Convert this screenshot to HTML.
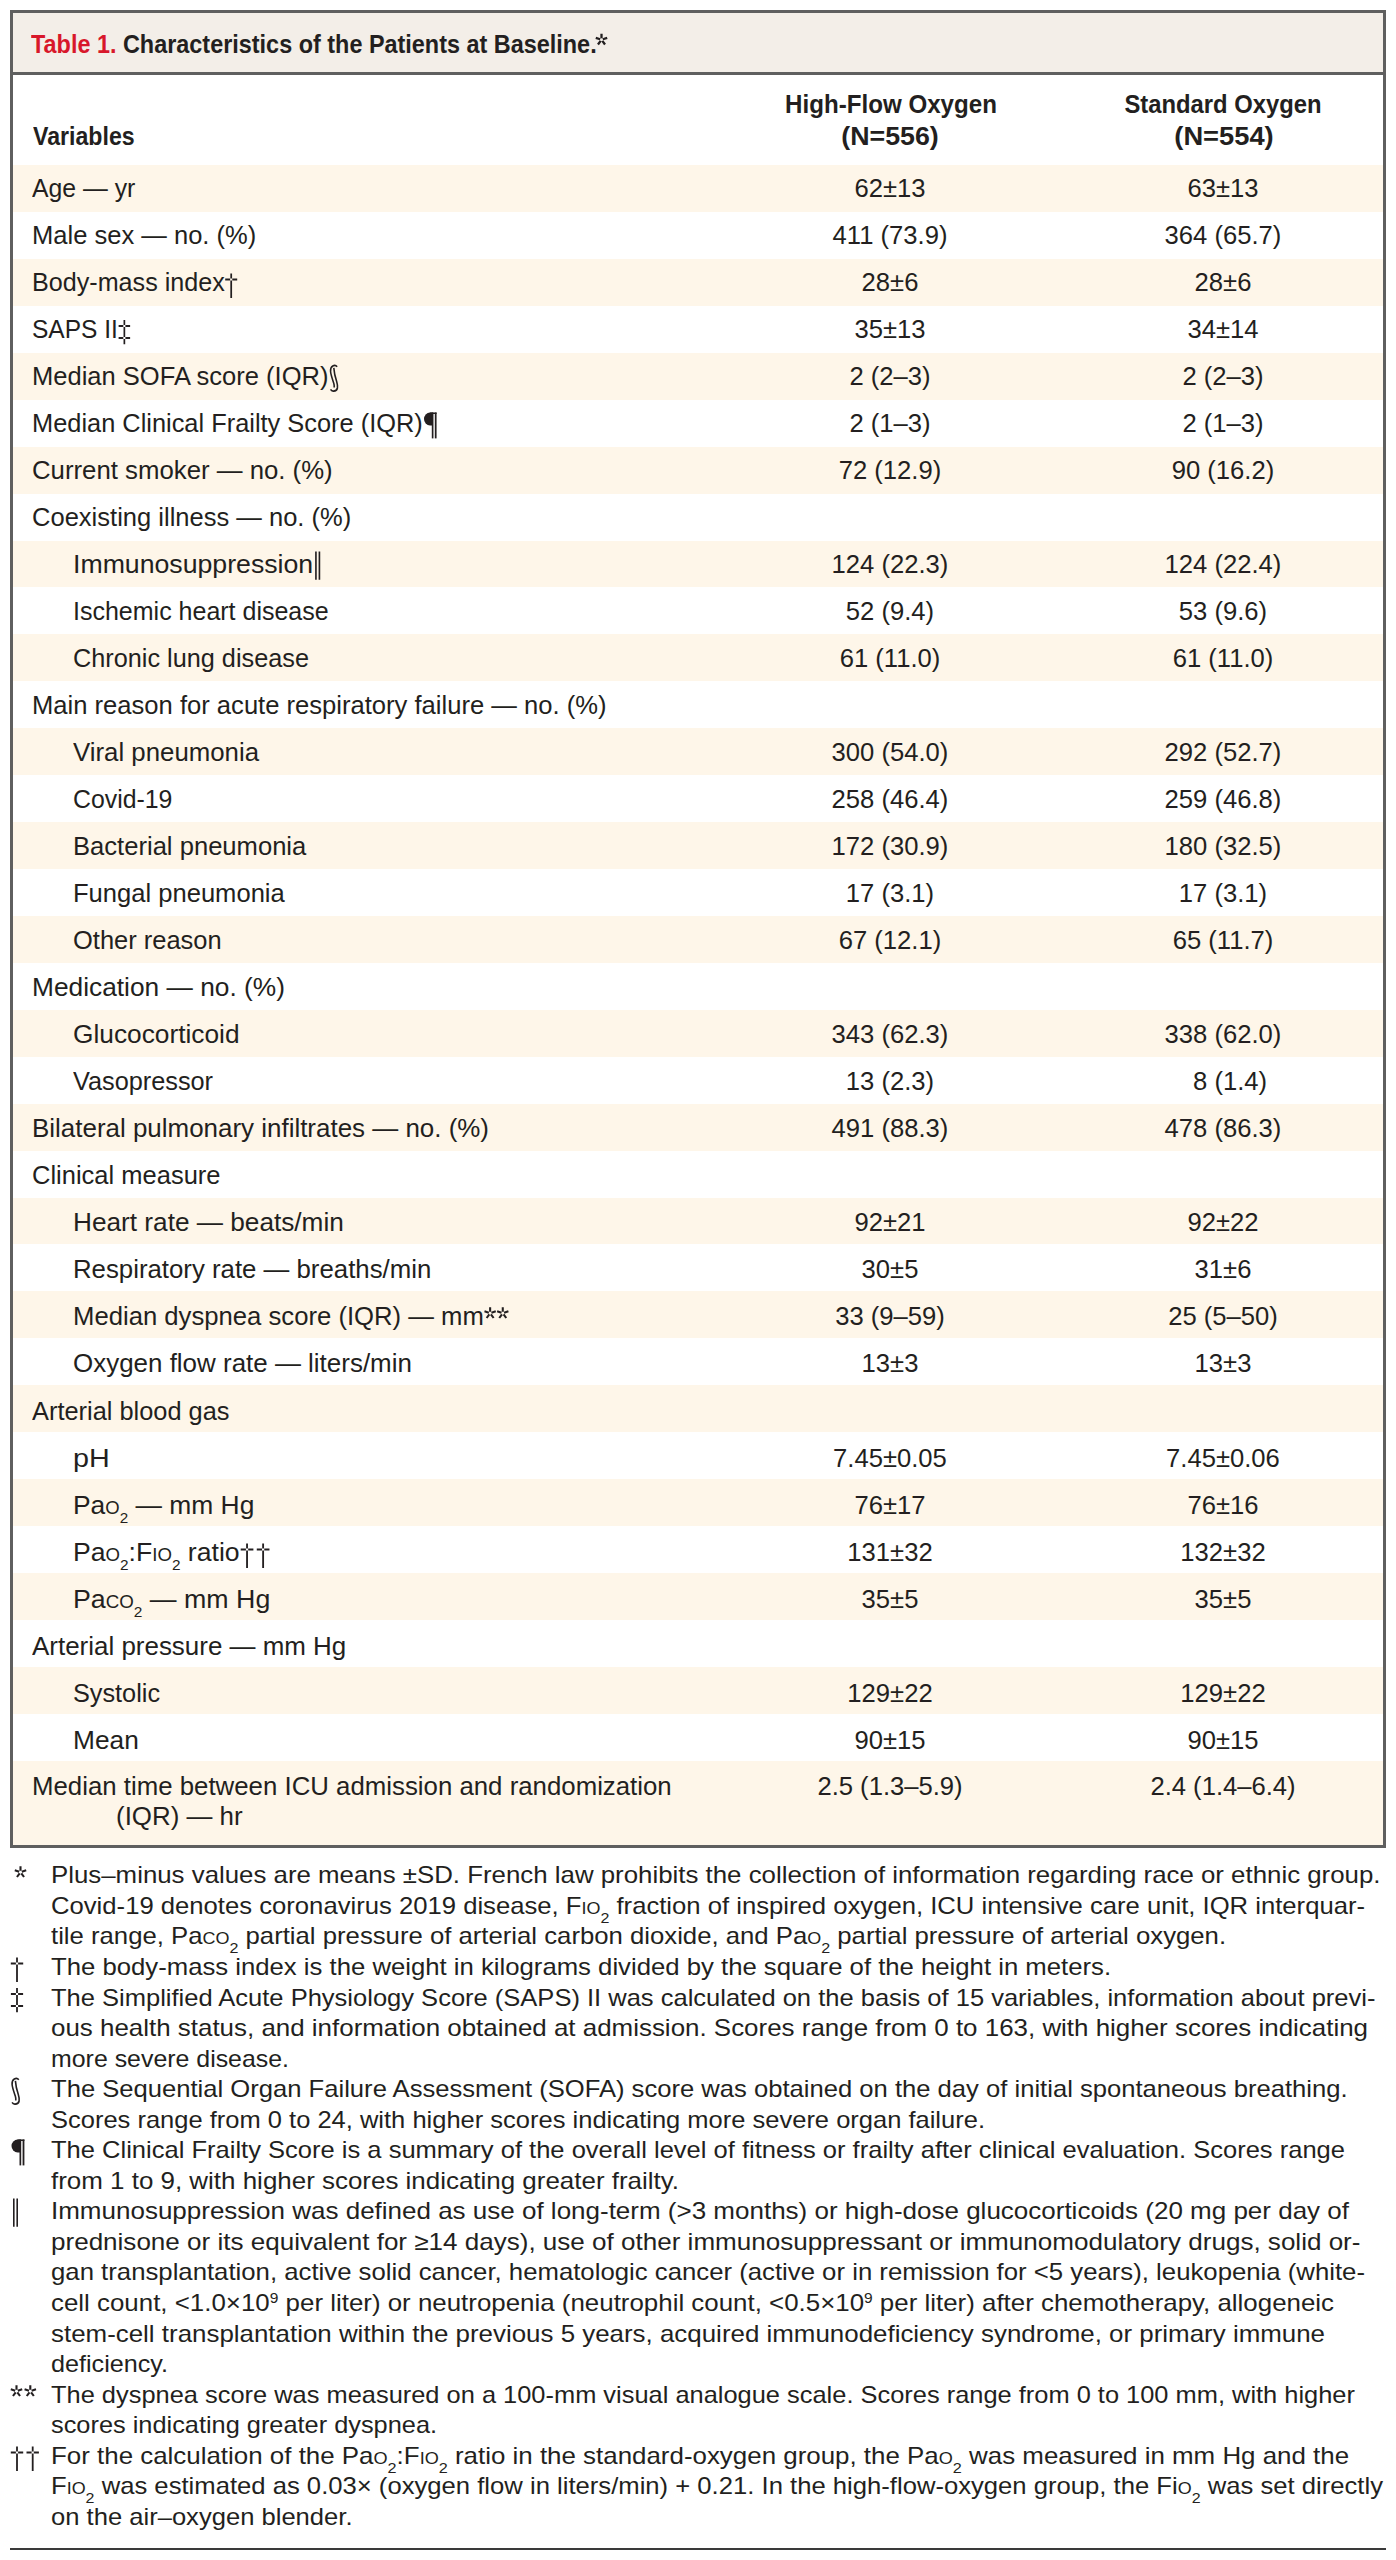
<!DOCTYPE html>
<html><head><meta charset="utf-8"><style>
html,body{margin:0;padding:0;background:#fff;}
body{width:1396px;height:2560px;position:relative;overflow:hidden;font-family:"Liberation Sans",sans-serif;color:#231f20;}
.a{position:absolute;white-space:nowrap;line-height:1;}
.l{transform-origin:0 50%;}
.c{transform-origin:50% 50%;}
sc{font-size:0.7em;text-transform:uppercase;}
sub{font-size:15px;vertical-align:-9.3px;line-height:0;}
sup{font-size:0.6em;vertical-align:0.55em;line-height:0;}
.stripe{position:absolute;left:13px;width:1370px;background:#fef6e9;}
</style></head><body>

<div style="position:absolute;left:10px;top:10px;width:1376px;height:1838px;box-sizing:border-box;border:3px solid #5f5f5f;"></div>
<div style="position:absolute;left:13px;top:13px;width:1370px;height:59px;background:#f3eee8;"></div>
<div style="position:absolute;left:10px;top:72px;width:1376px;height:3px;background:#5f5f5f;"></div>
<div class="stripe" style="top:165.10px;height:46.93px"></div>
<div class="stripe" style="top:258.96px;height:46.93px"></div>
<div class="stripe" style="top:352.82px;height:46.93px"></div>
<div class="stripe" style="top:446.68px;height:46.93px"></div>
<div class="stripe" style="top:540.54px;height:46.93px"></div>
<div class="stripe" style="top:634.40px;height:46.93px"></div>
<div class="stripe" style="top:728.26px;height:46.93px"></div>
<div class="stripe" style="top:822.12px;height:46.93px"></div>
<div class="stripe" style="top:915.98px;height:46.93px"></div>
<div class="stripe" style="top:1009.84px;height:46.93px"></div>
<div class="stripe" style="top:1103.70px;height:46.93px"></div>
<div class="stripe" style="top:1197.56px;height:46.93px"></div>
<div class="stripe" style="top:1291.42px;height:46.93px"></div>
<div class="stripe" style="top:1385.28px;height:46.93px"></div>
<div class="stripe" style="top:1479.14px;height:46.93px"></div>
<div class="stripe" style="top:1573.00px;height:46.93px"></div>
<div class="stripe" style="top:1666.86px;height:46.93px"></div>
<div class="stripe" style="top:1760.72px;height:84.28px"></div>
<div class="a l" style="left:31.00px;top:30.79px;font-size:26px;transform:scaleX(0.9006);font-weight:bold;"><span style="color:#d8172b">Table 1.</span> Characteristics of the Patients at Baseline.</div>
<div class="a" style="left:595.10px;top:33.50px;line-height:0"><svg width="13" height="21" viewBox="0 -19 13 21" style="display:block;x:-2px;overflow:visible" fill="none" stroke="#231f20" stroke-width="1.8"><path d="M6.50 -14.70L6.50 -19.30M5.17 -13.73L0.79 -15.15M7.83 -13.73L12.21 -15.15M5.68 -12.17L2.97 -8.45M7.32 -12.17L10.03 -8.45" stroke-width="2.3"/></svg></div>
<div class="a l" style="left:33.00px;top:122.99px;font-size:26px;transform:scaleX(0.8900);font-weight:bold;">Variables</div>
<div class="a c" style="left:741.20px;top:91.49px;width:300px;text-align:center;font-size:26px;transform:scaleX(0.9280);font-weight:bold;">High-Flow Oxygen</div>
<div class="a c" style="left:740.30px;top:123.29px;width:300px;text-align:center;font-size:26px;transform:scaleX(1.0300);font-weight:bold;">(N=556)</div>
<div class="a c" style="left:1073.00px;top:91.49px;width:300px;text-align:center;font-size:26px;transform:scaleX(0.9160);font-weight:bold;">Standard Oxygen</div>
<div class="a c" style="left:1073.50px;top:123.29px;width:300px;text-align:center;font-size:26px;transform:scaleX(1.0500);font-weight:bold;">(N=554)</div>
<div class="a l" style="left:32.00px;top:174.99px;font-size:26px;transform:scaleX(0.9531);">Age — yr</div>
<div class="a c" style="left:740.00px;top:174.99px;width:300px;text-align:center;font-size:26px;transform:scaleX(0.9850);">62±13</div>
<div class="a c" style="left:1073.00px;top:174.99px;width:300px;text-align:center;font-size:26px;transform:scaleX(0.9850);">63±13</div>
<div class="a l" style="left:32.00px;top:222.01px;font-size:26px;transform:scaleX(0.9823);">Male sex — no. (%)</div>
<div class="a c" style="left:740.00px;top:222.01px;width:300px;text-align:center;font-size:26px;transform:scaleX(0.9850);">411 (73.9)</div>
<div class="a c" style="left:1073.00px;top:222.01px;width:300px;text-align:center;font-size:26px;transform:scaleX(0.9850);">364 (65.7)</div>
<div class="a l" style="left:32.00px;top:269.03px;font-size:26px;transform:scaleX(0.9670);">Body-mass index<svg width="14" height="27" viewBox="0 -19 14 27" style="vertical-align:-8px;overflow:visible" fill="none" stroke="#231f20" stroke-width="1.8"><path d="M7 -17.6V-12.6M7 -10.4V7M0.8 -11.5H5.9M8.1 -11.5H13.2"/></svg></div>
<div class="a c" style="left:740.00px;top:269.03px;width:300px;text-align:center;font-size:26px;transform:scaleX(0.9850);">28±6</div>
<div class="a c" style="left:1073.00px;top:269.03px;width:300px;text-align:center;font-size:26px;transform:scaleX(0.9850);">28±6</div>
<div class="a l" style="left:32.00px;top:316.05px;font-size:26px;transform:scaleX(0.9425);">SAPS II<svg width="14" height="26" viewBox="0 -19 14 26" style="vertical-align:-7px;overflow:visible" fill="none" stroke="#231f20" stroke-width="1.8"><path d="M7 -18V-13.1M7 -10.9V-1.1M7 1.1V6.2M0.9 -12H5.9M8.1 -12H13.1M0.9 0H5.9M8.1 0H13.1"/></svg></div>
<div class="a c" style="left:740.00px;top:316.05px;width:300px;text-align:center;font-size:26px;transform:scaleX(0.9850);">35±13</div>
<div class="a c" style="left:1073.00px;top:316.05px;width:300px;text-align:center;font-size:26px;transform:scaleX(0.9850);">34±14</div>
<div class="a l" style="left:32.00px;top:363.07px;font-size:26px;transform:scaleX(0.9818);">Median SOFA score (IQR)<svg width="11" height="28" viewBox="0 -21 11 28" style="vertical-align:-7px;overflow:visible" fill="none" stroke="#231f20" stroke-width="1.8"><path d="M8.8,-18.3 C7.7,-19.6 5.8,-19.8 4.3,-19 C2.5,-18 1.9,-15.8 2.1,-13.5 C2.4,-10 4.3,-5 5.3,-2 C5.8,-0.5 5.9,1 5.8,2.5" stroke-width="1.6"/><path d="M5.4,-17.1 C5.7,-13 7.1,-7 8.3,-3.5 C9.1,-1 9.4,1 9.1,3 C8.7,5 6.7,6.2 4.8,6.1 C3.6,6 2.6,5.3 2.1,4.4" stroke-width="1.6"/></svg></div>
<div class="a c" style="left:740.00px;top:363.07px;width:300px;text-align:center;font-size:26px;transform:scaleX(0.9850);">2 (2–3)</div>
<div class="a c" style="left:1073.00px;top:363.07px;width:300px;text-align:center;font-size:26px;transform:scaleX(0.9850);">2 (2–3)</div>
<div class="a l" style="left:32.00px;top:410.09px;font-size:26px;transform:scaleX(0.9763);">Median Clinical Frailty Score (IQR)<svg width="16" height="27" viewBox="0 -20 16 27" style="vertical-align:-7px;overflow:visible" fill="none" stroke="#231f20" stroke-width="1.8"><g fill="#231f20" stroke="none"><path d="M10.5 -19.5H7.7A6.2 6.5 0 0 0 7.7 -6.5H10.5Z"/><rect x="7.5" y="-19.5" width="6.9" height="1.5"/><rect x="9.5" y="-19.5" width="1.7" height="25.9"/><rect x="12.6" y="-19.5" width="1.8" height="25.9"/></g></svg></div>
<div class="a c" style="left:740.00px;top:410.09px;width:300px;text-align:center;font-size:26px;transform:scaleX(0.9850);">2 (1–3)</div>
<div class="a c" style="left:1073.00px;top:410.09px;width:300px;text-align:center;font-size:26px;transform:scaleX(0.9850);">2 (1–3)</div>
<div class="a l" style="left:32.00px;top:457.11px;font-size:26px;transform:scaleX(0.9910);">Current smoker — no. (%)</div>
<div class="a c" style="left:740.00px;top:457.11px;width:300px;text-align:center;font-size:26px;transform:scaleX(0.9850);">72 (12.9)</div>
<div class="a c" style="left:1073.00px;top:457.11px;width:300px;text-align:center;font-size:26px;transform:scaleX(0.9850);">90 (16.2)</div>
<div class="a l" style="left:32.00px;top:504.13px;font-size:26px;transform:scaleX(0.9819);">Coexisting illness — no. (%)</div>
<div class="a l" style="left:73.00px;top:551.15px;font-size:26px;transform:scaleX(1.0259);">Immunosuppression<svg width="8" height="29" viewBox="0 -22 8 29" style="vertical-align:-7px;overflow:visible" fill="none" stroke="#231f20" stroke-width="1.8"><path d="M2.8 -21.5V6.8M6.2 -21.5V6.8" stroke-width="1.6"/></svg></div>
<div class="a c" style="left:740.00px;top:551.15px;width:300px;text-align:center;font-size:26px;transform:scaleX(0.9850);">124 (22.3)</div>
<div class="a c" style="left:1073.00px;top:551.15px;width:300px;text-align:center;font-size:26px;transform:scaleX(0.9850);">124 (22.4)</div>
<div class="a l" style="left:73.00px;top:598.17px;font-size:26px;transform:scaleX(0.9615);">Ischemic heart disease</div>
<div class="a c" style="left:740.00px;top:598.17px;width:300px;text-align:center;font-size:26px;transform:scaleX(0.9850);">52 (9.4)</div>
<div class="a c" style="left:1073.00px;top:598.17px;width:300px;text-align:center;font-size:26px;transform:scaleX(0.9850);">53 (9.6)</div>
<div class="a l" style="left:73.00px;top:645.19px;font-size:26px;transform:scaleX(0.9717);">Chronic lung disease</div>
<div class="a c" style="left:740.00px;top:645.19px;width:300px;text-align:center;font-size:26px;transform:scaleX(0.9850);">61 (11.0)</div>
<div class="a c" style="left:1073.00px;top:645.19px;width:300px;text-align:center;font-size:26px;transform:scaleX(0.9850);">61 (11.0)</div>
<div class="a l" style="left:32.00px;top:692.21px;font-size:26px;transform:scaleX(0.9840);">Main reason for acute respiratory failure — no. (%)</div>
<div class="a l" style="left:73.00px;top:739.23px;font-size:26px;transform:scaleX(0.9926);">Viral pneumonia</div>
<div class="a c" style="left:740.00px;top:739.23px;width:300px;text-align:center;font-size:26px;transform:scaleX(0.9850);">300 (54.0)</div>
<div class="a c" style="left:1073.00px;top:739.23px;width:300px;text-align:center;font-size:26px;transform:scaleX(0.9850);">292 (52.7)</div>
<div class="a l" style="left:73.00px;top:786.25px;font-size:26px;transform:scaleX(0.9555);">Covid-19</div>
<div class="a c" style="left:740.00px;top:786.25px;width:300px;text-align:center;font-size:26px;transform:scaleX(0.9850);">258 (46.4)</div>
<div class="a c" style="left:1073.00px;top:786.25px;width:300px;text-align:center;font-size:26px;transform:scaleX(0.9850);">259 (46.8)</div>
<div class="a l" style="left:73.00px;top:833.27px;font-size:26px;transform:scaleX(0.9842);">Bacterial pneumonia</div>
<div class="a c" style="left:740.00px;top:833.27px;width:300px;text-align:center;font-size:26px;transform:scaleX(0.9850);">172 (30.9)</div>
<div class="a c" style="left:1073.00px;top:833.27px;width:300px;text-align:center;font-size:26px;transform:scaleX(0.9850);">180 (32.5)</div>
<div class="a l" style="left:73.00px;top:880.29px;font-size:26px;transform:scaleX(0.9831);">Fungal pneumonia</div>
<div class="a c" style="left:740.00px;top:880.29px;width:300px;text-align:center;font-size:26px;transform:scaleX(0.9850);">17 (3.1)</div>
<div class="a c" style="left:1073.00px;top:880.29px;width:300px;text-align:center;font-size:26px;transform:scaleX(0.9850);">17 (3.1)</div>
<div class="a l" style="left:73.00px;top:927.31px;font-size:26px;transform:scaleX(0.9796);">Other reason</div>
<div class="a c" style="left:740.00px;top:927.31px;width:300px;text-align:center;font-size:26px;transform:scaleX(0.9850);">67 (12.1)</div>
<div class="a c" style="left:1073.00px;top:927.31px;width:300px;text-align:center;font-size:26px;transform:scaleX(0.9850);">65 (11.7)</div>
<div class="a l" style="left:32.00px;top:974.33px;font-size:26px;transform:scaleX(1.0117);">Medication — no. (%)</div>
<div class="a l" style="left:73.00px;top:1021.35px;font-size:26px;transform:scaleX(1.0109);">Glucocorticoid</div>
<div class="a c" style="left:740.00px;top:1021.35px;width:300px;text-align:center;font-size:26px;transform:scaleX(0.9850);">343 (62.3)</div>
<div class="a c" style="left:1073.00px;top:1021.35px;width:300px;text-align:center;font-size:26px;transform:scaleX(0.9850);">338 (62.0)</div>
<div class="a l" style="left:73.00px;top:1068.37px;font-size:26px;transform:scaleX(0.9723);">Vasopressor</div>
<div class="a c" style="left:740.00px;top:1068.37px;width:300px;text-align:center;font-size:26px;transform:scaleX(0.9850);">13 (2.3)</div>
<div class="a c" style="left:1073.00px;top:1068.37px;width:300px;text-align:center;font-size:26px;transform:scaleX(0.9850);"><span style="visibility:hidden">0</span>8 (1.4)</div>
<div class="a l" style="left:32.00px;top:1115.39px;font-size:26px;transform:scaleX(0.9977);">Bilateral pulmonary infiltrates — no. (%)</div>
<div class="a c" style="left:740.00px;top:1115.39px;width:300px;text-align:center;font-size:26px;transform:scaleX(0.9850);">491 (88.3)</div>
<div class="a c" style="left:1073.00px;top:1115.39px;width:300px;text-align:center;font-size:26px;transform:scaleX(0.9850);">478 (86.3)</div>
<div class="a l" style="left:32.00px;top:1162.41px;font-size:26px;transform:scaleX(0.9808);">Clinical measure</div>
<div class="a l" style="left:73.00px;top:1209.43px;font-size:26px;transform:scaleX(1.0076);">Heart rate — beats/min</div>
<div class="a c" style="left:740.00px;top:1209.43px;width:300px;text-align:center;font-size:26px;transform:scaleX(0.9850);">92±21</div>
<div class="a c" style="left:1073.00px;top:1209.43px;width:300px;text-align:center;font-size:26px;transform:scaleX(0.9850);">92±22</div>
<div class="a l" style="left:73.00px;top:1256.45px;font-size:26px;transform:scaleX(0.9917);">Respiratory rate — breaths/min</div>
<div class="a c" style="left:740.00px;top:1256.45px;width:300px;text-align:center;font-size:26px;transform:scaleX(0.9850);">30±5</div>
<div class="a c" style="left:1073.00px;top:1256.45px;width:300px;text-align:center;font-size:26px;transform:scaleX(0.9850);">31±6</div>
<div class="a l" style="left:73.00px;top:1303.47px;font-size:26px;transform:scaleX(0.9873);">Median dyspnea score (IQR) — mm<svg width="26" height="21" viewBox="0 -19 26 21" style="vertical-align:-2px;overflow:visible" fill="none" stroke="#231f20" stroke-width="1.8"><path d="M6.50 -13.25L6.50 -17.85M5.17 -12.28L0.79 -13.70M7.83 -12.28L12.21 -13.70M5.68 -10.72L2.97 -7.00M7.32 -10.72L10.03 -7.00" stroke-width="2.1"/><path d="M19.30 -13.25L19.30 -17.85M17.97 -12.28L13.59 -13.70M20.63 -12.28L25.01 -13.70M18.48 -10.72L15.77 -7.00M20.12 -10.72L22.83 -7.00" stroke-width="2.1"/></svg></div>
<div class="a c" style="left:740.00px;top:1303.47px;width:300px;text-align:center;font-size:26px;transform:scaleX(0.9850);">33 (9–59)</div>
<div class="a c" style="left:1073.00px;top:1303.47px;width:300px;text-align:center;font-size:26px;transform:scaleX(0.9850);">25 (5–50)</div>
<div class="a l" style="left:73.00px;top:1350.49px;font-size:26px;transform:scaleX(0.9981);">Oxygen flow rate — liters/min</div>
<div class="a c" style="left:740.00px;top:1350.49px;width:300px;text-align:center;font-size:26px;transform:scaleX(0.9850);">13±3</div>
<div class="a c" style="left:1073.00px;top:1350.49px;width:300px;text-align:center;font-size:26px;transform:scaleX(0.9850);">13±3</div>
<div class="a l" style="left:32.00px;top:1397.51px;font-size:26px;transform:scaleX(0.9760);">Arterial blood gas</div>
<div class="a l" style="left:73.00px;top:1444.53px;font-size:26px;transform:scaleX(1.1033);">pH</div>
<div class="a c" style="left:740.00px;top:1444.53px;width:300px;text-align:center;font-size:26px;transform:scaleX(0.9850);">7.45±0.05</div>
<div class="a c" style="left:1073.00px;top:1444.53px;width:300px;text-align:center;font-size:26px;transform:scaleX(0.9850);">7.45±0.06</div>
<div class="a l" style="left:73.00px;top:1491.55px;font-size:26px;transform:scaleX(1.0158);">Pa<sc>o</sc><sub>2</sub> — mm Hg</div>
<div class="a c" style="left:740.00px;top:1491.55px;width:300px;text-align:center;font-size:26px;transform:scaleX(0.9850);">76±17</div>
<div class="a c" style="left:1073.00px;top:1491.55px;width:300px;text-align:center;font-size:26px;transform:scaleX(0.9850);">76±16</div>
<div class="a l" style="left:73.00px;top:1538.57px;font-size:26px;transform:scaleX(1.0238);">Pa<sc>o</sc><sub>2</sub>:F<sc>io</sc><sub>2</sub> ratio<svg width="29" height="27" viewBox="0 -19 29 27" style="vertical-align:-8px;overflow:visible" fill="none" stroke="#231f20" stroke-width="1.8"><path d="M7 -17.6V-12.6M7 -10.4V7M0.8 -11.5H5.9M8.1 -11.5H13.2"/><path d="M22.7 -17.6V-12.6M22.7 -10.4V7M16.5 -11.5H21.6M23.8 -11.5H28.9"/></svg></div>
<div class="a c" style="left:740.00px;top:1538.57px;width:300px;text-align:center;font-size:26px;transform:scaleX(0.9850);">131±32</div>
<div class="a c" style="left:1073.00px;top:1538.57px;width:300px;text-align:center;font-size:26px;transform:scaleX(0.9850);">132±32</div>
<div class="a l" style="left:73.00px;top:1585.59px;font-size:26px;transform:scaleX(1.0295);">Pa<sc>co</sc><sub>2</sub> — mm Hg</div>
<div class="a c" style="left:740.00px;top:1585.59px;width:300px;text-align:center;font-size:26px;transform:scaleX(0.9850);">35±5</div>
<div class="a c" style="left:1073.00px;top:1585.59px;width:300px;text-align:center;font-size:26px;transform:scaleX(0.9850);">35±5</div>
<div class="a l" style="left:32.00px;top:1632.61px;font-size:26px;transform:scaleX(0.9978);">Arterial pressure — mm Hg</div>
<div class="a l" style="left:73.00px;top:1679.63px;font-size:26px;transform:scaleX(0.9715);">Systolic</div>
<div class="a c" style="left:740.00px;top:1679.63px;width:300px;text-align:center;font-size:26px;transform:scaleX(0.9850);">129±22</div>
<div class="a c" style="left:1073.00px;top:1679.63px;width:300px;text-align:center;font-size:26px;transform:scaleX(0.9850);">129±22</div>
<div class="a l" style="left:73.00px;top:1726.65px;font-size:26px;transform:scaleX(1.0110);">Mean</div>
<div class="a c" style="left:740.00px;top:1726.65px;width:300px;text-align:center;font-size:26px;transform:scaleX(0.9850);">90±15</div>
<div class="a c" style="left:1073.00px;top:1726.65px;width:300px;text-align:center;font-size:26px;transform:scaleX(0.9850);">90±15</div>
<div class="a l" style="left:32.00px;top:1773.29px;font-size:26px;transform:scaleX(0.9925);">Median time between ICU admission and randomization</div>
<div class="a l" style="left:116.00px;top:1802.79px;font-size:26px;transform:scaleX(0.9962);">(IQR) — hr</div>
<div class="a c" style="left:740.00px;top:1773.29px;width:300px;text-align:center;font-size:26px;transform:scaleX(0.9850);">2.5 (1.3–5.9)</div>
<div class="a c" style="left:1073.00px;top:1773.29px;width:300px;text-align:center;font-size:26px;transform:scaleX(0.9850);">2.4 (1.4–6.4)</div>
<div class="a" style="left:14.10px;top:1864.65px;line-height:0"><svg width="13" height="21" viewBox="0 -19 13 21" style="display:block;x:-2px;overflow:visible" fill="none" stroke="#231f20" stroke-width="1.8"><path d="M6.50 -13.25L6.50 -17.85M5.17 -12.28L0.79 -13.70M7.83 -12.28L12.21 -13.70M5.68 -10.72L2.97 -7.00M7.32 -10.72L10.03 -7.00" stroke-width="2.1"/></svg></div>
<div class="a l" style="left:51.00px;top:1863.33px;font-size:24px;transform:scaleX(1.0764);">Plus–minus values are means ±SD. French law prohibits the collection of information regarding race or ethnic group.</div>
<div class="a l" style="left:51.00px;top:1893.88px;font-size:24px;transform:scaleX(1.0689);">Covid-19 denotes coronavirus 2019 disease, F<sc>io</sc><sub>2</sub> fraction of inspired oxygen, ICU intensive care unit, IQR interquar-</div>
<div class="a l" style="left:51.00px;top:1924.43px;font-size:24px;transform:scaleX(1.0713);">tile range, Pa<sc>co</sc><sub>2</sub> partial pressure of arterial carbon dioxide, and Pa<sc>o</sc><sub>2</sub> partial pressure of arterial oxygen.</div>
<div class="a" style="left:10.40px;top:1956.30px;line-height:0"><svg width="14" height="27" viewBox="0 -19 14 27" style="display:block;x:-8px;overflow:visible" fill="none" stroke="#231f20" stroke-width="1.8"><path d="M7 -17.6V-12.6M7 -10.4V7M0.8 -11.5H5.9M8.1 -11.5H13.2"/></svg></div>
<div class="a l" style="left:51.00px;top:1954.98px;font-size:24px;transform:scaleX(1.0709);">The body-mass index is the weight in kilograms divided by the square of the height in meters.</div>
<div class="a" style="left:10.40px;top:1986.85px;line-height:0"><svg width="14" height="26" viewBox="0 -19 14 26" style="display:block;x:-7px;overflow:visible" fill="none" stroke="#231f20" stroke-width="1.8"><path d="M7 -18V-13.1M7 -10.9V-1.1M7 1.1V6.2M0.9 -12H5.9M8.1 -12H13.1M0.9 0H5.9M8.1 0H13.1"/></svg></div>
<div class="a l" style="left:51.00px;top:1985.53px;font-size:24px;transform:scaleX(1.0630);">The Simplified Acute Physiology Score (SAPS) II was calculated on the basis of 15 variables, information about previ-</div>
<div class="a l" style="left:51.00px;top:2016.08px;font-size:24px;transform:scaleX(1.0801);">ous health status, and information obtained at admission. Scores range from 0 to 163, with higher scores indicating</div>
<div class="a l" style="left:51.00px;top:2046.63px;font-size:24px;transform:scaleX(1.0374);">more severe disease.</div>
<div class="a" style="left:9.50px;top:2076.50px;line-height:0"><svg width="11" height="28" viewBox="0 -21 11 28" style="display:block;x:-7px;overflow:visible" fill="none" stroke="#231f20" stroke-width="1.8"><path d="M8.8,-18.3 C7.7,-19.6 5.8,-19.8 4.3,-19 C2.5,-18 1.9,-15.8 2.1,-13.5 C2.4,-10 4.3,-5 5.3,-2 C5.8,-0.5 5.9,1 5.8,2.5" stroke-width="1.6"/><path d="M5.4,-17.1 C5.7,-13 7.1,-7 8.3,-3.5 C9.1,-1 9.4,1 9.1,3 C8.7,5 6.7,6.2 4.8,6.1 C3.6,6 2.6,5.3 2.1,4.4" stroke-width="1.6"/></svg></div>
<div class="a l" style="left:51.00px;top:2077.18px;font-size:24px;transform:scaleX(1.0668);">The Sequential Organ Failure Assessment (SOFA) score was obtained on the day of initial spontaneous breathing.</div>
<div class="a l" style="left:51.00px;top:2107.73px;font-size:24px;transform:scaleX(1.0624);">Scores range from 0 to 24, with higher scores indicating more severe organ failure.</div>
<div class="a" style="left:9.50px;top:2138.60px;line-height:0"><svg width="16" height="27" viewBox="0 -20 16 27" style="display:block;x:-7px;overflow:visible" fill="none" stroke="#231f20" stroke-width="1.8"><g fill="#231f20" stroke="none"><path d="M10.5 -19.5H7.7A6.2 6.5 0 0 0 7.7 -6.5H10.5Z"/><rect x="7.5" y="-19.5" width="6.9" height="1.5"/><rect x="9.5" y="-19.5" width="1.7" height="25.9"/><rect x="12.6" y="-19.5" width="1.8" height="25.9"/></g></svg></div>
<div class="a l" style="left:51.00px;top:2138.28px;font-size:24px;transform:scaleX(1.0637);">The Clinical Frailty Score is a summary of the overall level of fitness or frailty after clinical evaluation. Scores range</div>
<div class="a l" style="left:51.00px;top:2168.83px;font-size:24px;transform:scaleX(1.0806);">from 1 to 9, with higher scores indicating greater frailty.</div>
<div class="a" style="left:11.20px;top:2197.70px;line-height:0"><svg width="8" height="29" viewBox="0 -22 8 29" style="display:block;x:-7px;overflow:visible" fill="none" stroke="#231f20" stroke-width="1.8"><path d="M2.8 -21.5V6.8M6.2 -21.5V6.8" stroke-width="1.6"/></svg></div>
<div class="a l" style="left:51.00px;top:2199.38px;font-size:24px;transform:scaleX(1.0829);">Immunosuppression was defined as use of long-term (&gt;3 months) or high-dose glucocorticoids (20 mg per day of</div>
<div class="a l" style="left:51.00px;top:2229.93px;font-size:24px;transform:scaleX(1.0848);">prednisone or its equivalent for ≥14 days), use of other immunosuppressant or immunomodulatory drugs, solid or-</div>
<div class="a l" style="left:51.00px;top:2260.48px;font-size:24px;transform:scaleX(1.0724);">gan transplantation, active solid cancer, hematologic cancer (active or in remission for &lt;5 years), leukopenia (white-</div>
<div class="a l" style="left:51.00px;top:2291.03px;font-size:24px;transform:scaleX(1.0785);">cell count, &lt;1.0×10<sup>9</sup> per liter) or neutropenia (neutrophil count, &lt;0.5×10<sup>9</sup> per liter) after chemotherapy, allogeneic</div>
<div class="a l" style="left:51.00px;top:2321.58px;font-size:24px;transform:scaleX(1.0792);">stem-cell transplantation within the previous 5 years, acquired immunodeficiency syndrome, or primary immune</div>
<div class="a l" style="left:51.00px;top:2352.13px;font-size:24px;transform:scaleX(1.0490);">deficiency.</div>
<div class="a" style="left:10.00px;top:2384.00px;line-height:0"><svg width="27" height="21" viewBox="0 -19 27 21" style="display:block;x:-2px;overflow:visible" fill="none" stroke="#231f20" stroke-width="1.8"><path d="M6.50 -13.25L6.50 -17.85M5.17 -12.28L0.79 -13.70M7.83 -12.28L12.21 -13.70M5.68 -10.72L2.97 -7.00M7.32 -10.72L10.03 -7.00" stroke-width="2.1"/><path d="M20.30 -13.25L20.30 -17.85M18.97 -12.28L14.59 -13.70M21.63 -12.28L26.01 -13.70M19.48 -10.72L16.77 -7.00M21.12 -10.72L23.83 -7.00" stroke-width="2.1"/></svg></div>
<div class="a l" style="left:51.00px;top:2382.68px;font-size:24px;transform:scaleX(1.0590);">The dyspnea score was measured on a 100-mm visual analogue scale. Scores range from 0 to 100 mm, with higher</div>
<div class="a l" style="left:51.00px;top:2413.23px;font-size:24px;transform:scaleX(1.0560);">scores indicating greater dyspnea.</div>
<div class="a" style="left:10.40px;top:2445.10px;line-height:0"><svg width="29" height="27" viewBox="0 -19 29 27" style="display:block;x:-8px;overflow:visible" fill="none" stroke="#231f20" stroke-width="1.8"><path d="M7 -17.6V-12.6M7 -10.4V7M0.8 -11.5H5.9M8.1 -11.5H13.2"/><path d="M22.7 -17.6V-12.6M22.7 -10.4V7M16.5 -11.5H21.6M23.8 -11.5H28.9"/></svg></div>
<div class="a l" style="left:51.00px;top:2443.78px;font-size:24px;transform:scaleX(1.0792);">For the calculation of the Pa<sc>o</sc><sub>2</sub>:F<sc>io</sc><sub>2</sub> ratio in the standard-oxygen group, the Pa<sc>o</sc><sub>2</sub> was measured in mm Hg and the</div>
<div class="a l" style="left:51.00px;top:2474.33px;font-size:24px;transform:scaleX(1.0684);">F<sc>io</sc><sub>2</sub> was estimated as 0.03× (oxygen flow in liters/min) + 0.21. In the high-flow-oxygen group, the Fi<sc>o</sc><sub>2</sub> was set directly</div>
<div class="a l" style="left:51.00px;top:2504.88px;font-size:24px;transform:scaleX(1.0659);">on the air–oxygen blender.</div>
<div style="position:absolute;left:10px;top:2548px;width:1376px;height:2px;background:#3a3a3a;"></div>
</body></html>
